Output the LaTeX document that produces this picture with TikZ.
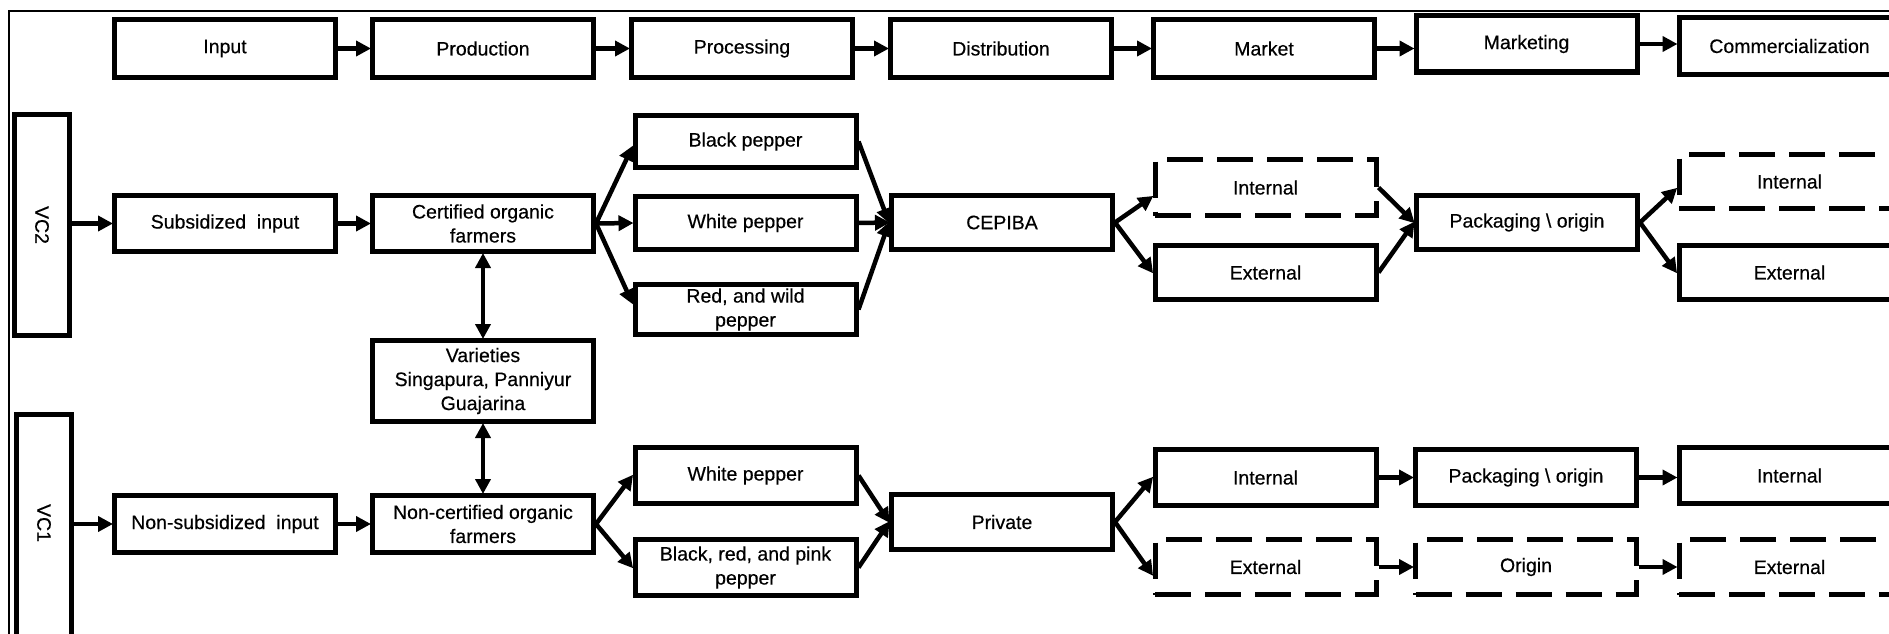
\documentclass[tikz,border=0pt]{standalone}
\usepackage{fontspec}
\setmainfont{Liberation Sans}[FakeBold=0.4]
\usetikzlibrary{arrows.meta}
\tikzset{
  bx/.style={draw, line width=5pt, rectangle, inner sep=0pt, align=center,
    minimum width=221pt, minimum height=56pt, font=\fontsize{19.5}{24}\selectfont},
  dbx/.style={bx, dash pattern=on 36pt off 14pt},
  arr/.style={line width=4.5pt, -{Triangle[length=15pt,width=15pt]}, shorten >=-1pt},
  darr/.style={line width=4.5pt, {Triangle[length=15pt,width=15pt]}-{Triangle[length=15pt,width=15pt]}, shorten >=-1pt, shorten <=-1pt},
}
\begin{document}
\begin{tikzpicture}[x=1pt,y=-1pt]
\clip (0,0) rectangle (1889,634);
\fill[white] (0,0) rectangle (1889,634);
% outer frame
\draw[line width=2.5pt] (9,11) rectangle (1960,700);
% top row
\node[bx, minimum height=58pt] (input) at (225,48.5) {Input};
\node[bx, minimum height=58pt] (prod) at (483,48.5) {Production};
\node[bx, minimum height=58pt] (proc) at (742,48.5) {Processing};
\node[bx, minimum height=58pt] (dist) at (1001,48.5) {Distribution};
\node[bx, minimum height=58pt] (mkt) at (1264,48.5) {Market};
\node[bx, minimum height=56pt] (mktg) at (1526.5,44) {Marketing};
\node[bx, minimum height=57pt] (comm) at (1789.5,46) {Commercialization};
\foreach \a/\b in {input/prod,prod/proc,proc/dist,dist/mkt,mkt/mktg,mktg/comm}
  \draw[arr] (\a.east) -- (\a.east -| \b.west);
% VC labels
\node[bx, minimum width=55pt, minimum height=221pt] (vc2) at (42,225) {};
\node[rotate=-90, font=\fontsize{19.5}{24}\selectfont] (vc2t) at (vc2.center) {VC2};
\node[bx, minimum width=55pt, minimum height=243pt] (vc1) at (44,536) {};
\node[rotate=-90, font=\fontsize{19.5}{24}\selectfont] (vc1t) at (44,523) {VC1};
% VC2 row
\node[bx] (sub) at (225,223.5) {Subsidized\ \ input};
\node[bx] (cert) at (483,223.5) {Certified organic\\farmers};
\node[bx, minimum height=52pt] (black2) at (745.5,141.5) {Black pepper};
\node[bx, minimum height=53pt] (white2) at (745.5,223) {White pepper};
\node[bx, minimum height=50pt] (red2) at (745.5,309.5) {Red, and wild\\pepper};
\node[bx, minimum height=54pt] (cepiba) at (1002,222.5) {CEPIBA};
\node[dbx] (int2) at (1265.5,187.5) {Internal};
\node[bx, minimum height=54pt] (ext2) at (1265.5,272.5) {External};
\node[bx, minimum height=54pt] (pack2) at (1527,222.5) {Packaging \textbackslash{} origin};
\node[dbx, minimum height=54pt] (intR2) at (1789.5,181.5) {Internal};
\node[bx, minimum height=54pt] (extR2) at (1789.5,272.5) {External};
% varieties
\node[bx, minimum height=81pt] (var) at (483,381) {Varieties\\Singapura, Panniyur\\Guajarina};
% VC1 row
\node[bx, minimum height=57pt] (nonsub) at (225,524) {Non-subsidized\ \ input};
\node[bx, minimum height=57pt] (noncert) at (483,524) {Non-certified organic\\farmers};
\node[bx] (white1) at (745.5,475.5) {White pepper};
\node[bx] (brp1) at (745.5,567.5) {Black, red, and pink\\pepper};
\node[bx, minimum height=55pt] (priv) at (1002,522) {Private};
\node[bx] (int1) at (1265.5,477.5) {Internal};
\node[bx] (pack1) at (1526,477.5) {Packaging \textbackslash{} origin};
\node[bx] (intR1) at (1789.5,475.5) {Internal};
\node[dbx, minimum height=55pt] (ext1) at (1265.5,567) {External};
\node[dbx, minimum height=55pt] (orig) at (1526,567) {Origin};
\node[dbx, minimum height=55pt] (extR1) at (1789.5,567) {External};
% VC2 connectors
\draw[arr] (vc2.east |- sub.west) -- (sub.west);
\draw[arr] (sub.east) -- (cert.west);
\draw[arr] (cert.east) -- ([yshift=-5pt]black2.west);
\draw[arr] (cert.east) -- (white2.west);
\draw[arr] (cert.east) -- ([yshift=6pt]red2.west);
\draw[arr] (black2.east) -- (cepiba.west);
\draw[arr] (white2.east) -- (cepiba.west);
\draw[arr] (red2.east) -- (cepiba.west);
\draw[arr] (cepiba.east) -- ([yshift=-9pt]int2.west);
\draw[arr] (cepiba.east) -- (ext2.west);
\draw[arr] (int2.east) -- (pack2.west);
\draw[arr] (ext2.east) -- (pack2.west);
\draw[arr] (pack2.east) -- ([yshift=-7pt]intR2.west);
\draw[arr] (pack2.east) -- (extR2.west);
\draw[darr] (cert.south) -- (var.north);
\draw[darr] (var.south) -- (noncert.north);
% VC1 connectors
\draw[arr] (vc1.east |- nonsub.west) -- (nonsub.west);
\draw[arr] (nonsub.east) -- (noncert.west);
\draw[arr] (noncert.east) -- (white1.west);
\draw[arr] (noncert.east) -- (brp1.west);
\draw[arr] (white1.east) -- (priv.west);
\draw[arr] (brp1.east) -- (priv.west);
\draw[arr] (priv.east) -- (int1.west);
\draw[arr] (priv.east) -- ([yshift=-8pt]ext1.west);
\draw[arr] (int1.east) -- (pack1.west);
\draw[arr] (pack1.east) -- (pack1.east -| intR1.west);
\draw[arr] (ext1.east) -- (orig.west);
\draw[arr] (orig.east) -- (extR1.west);
\end{tikzpicture}
\end{document}
